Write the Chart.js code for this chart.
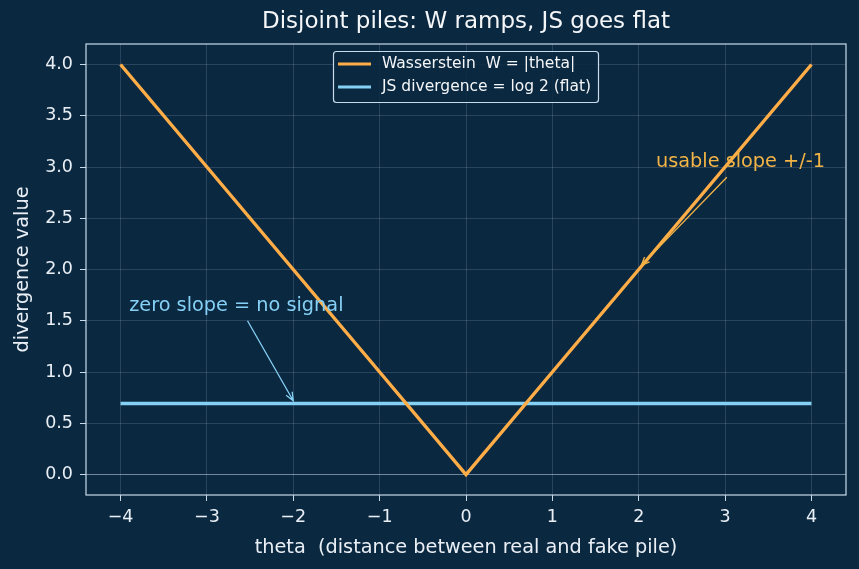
<!DOCTYPE html>
<html>
<head>
    <title>Disjoint piles</title>
    <script src="https://cdn.jsdelivr.net/npm/chart.js@4/dist/chart.umd.min.js"></script>
    <style>
        html, body {
            margin: 0;
            padding: 0;
            background-color: #0b2841;
        }
        .chart-container {
            width: 859px;
            height: 569px;
        }
    </style>
</head>
<body>
    <div class="chart-container">
        <canvas id="divChart" width="859" height="569"></canvas>
    </div>

    <script>
        // data
        const thetaVals = [-4, -3, -2, -1, 0, 1, 2, 3, 4];
        const wassersteinVals = [4, 3, 2, 1, 0, 1, 2, 3, 4];
        const jsVals = [0.693, 0.693, 0.693, 0.693, 0.693, 0.693, 0.693, 0.693, 0.693];
        const seriesLabels = ['Wasserstein  W = |theta|', 'JS divergence = log 2 (flat)'];

        const xTicks = [-4, -3, -2, -1, 0, 1, 2, 3, 4];
        const yTicks = [0, 0.5, 1, 1.5, 2, 2.5, 3, 3.5, 4];

        // annotations: text, text anchor, arrow start, arrow tip (data units)
        const noteTexts = ['usable slope +/-1', 'zero slope = no signal'];
        const noteAt = [[2.2, 3.0], [-3.9, 1.6]];
        const arrowFrom = [[3.02, 2.9], [-2.53, 1.5]];
        const arrowTo = [[2.03, 2.04], [-2.0, 0.72]];

        const bg = '#0b2841';
        const fg = '#e9eff5';
        const frame = '#c9dbea';
        const orange = '#ffad47';
        const blue = '#85d0f5';
        const font = "'DejaVu Sans', sans-serif";

        // frame, zero line, annotations, legend, title
        const decorPlugin = {
            id: 'decor',
            beforeDraw(chart) {
                const c = chart.ctx;
                c.save();
                c.fillStyle = bg;
                c.fillRect(0, 0, chart.width, chart.height);
                c.restore();
            },
            beforeDatasetsDraw(chart) {
                const c = chart.ctx;
                const a = chart.chartArea;
                const y0 = chart.scales.y.getPixelForValue(0);
                c.save();
                c.strokeStyle = 'rgba(201,219,234,0.45)';
                c.lineWidth = 1.2;
                c.beginPath();
                c.moveTo(a.left, y0);
                c.lineTo(a.right, y0);
                c.stroke();
                c.restore();
            },
            afterDraw(chart) {
                const c = chart.ctx;
                const a = chart.chartArea;
                const xs = chart.scales.x, ys = chart.scales.y;
                c.save();

                // frame
                c.strokeStyle = frame;
                c.lineWidth = 1.2;
                c.strokeRect(a.left, a.top, a.right - a.left, a.bottom - a.top);

                // title
                c.fillStyle = '#f4f6f8';
                c.font = "23px " + font;
                c.textAlign = 'center';
                c.textBaseline = 'middle';
                c.fillText('Disjoint piles: W ramps, JS goes flat', (a.left + a.right) / 2, 22);

                // annotations
                const noteColors = ['#f2b445', '#85d0f5'];
                c.font = "19.3px " + font;
                c.textAlign = 'left';
                c.textBaseline = 'alphabetic';
                for (let i = 0; i < noteTexts.length; i++) {
                    c.fillStyle = noteColors[i];
                    c.fillText(noteTexts[i], xs.getPixelForValue(noteAt[i][0]), ys.getPixelForValue(noteAt[i][1]));
                    const x1 = xs.getPixelForValue(arrowFrom[i][0]), y1 = ys.getPixelForValue(arrowFrom[i][1]);
                    const x2 = xs.getPixelForValue(arrowTo[i][0]), y2 = ys.getPixelForValue(arrowTo[i][1]);
                    c.strokeStyle = noteColors[i];
                    c.lineWidth = 1.3;
                    c.beginPath();
                    c.moveTo(x1, y1);
                    c.lineTo(x2, y2);
                    const ang = Math.atan2(y2 - y1, x2 - x1);
                    const h = 9;
                    c.moveTo(x2 - h * Math.cos(ang - 0.4), y2 - h * Math.sin(ang - 0.4));
                    c.lineTo(x2, y2);
                    c.lineTo(x2 - h * Math.cos(ang + 0.4), y2 - h * Math.sin(ang + 0.4));
                    c.stroke();
                }

                // legend box
                const lx = 333, ly = 51, lw = 265, lh = 51;
                c.fillStyle = 'rgba(11,40,65,0.85)';
                c.strokeStyle = frame;
                c.lineWidth = 1.2;
                c.beginPath();
                c.roundRect(lx + 0.5, ly + 0.5, lw, lh, 3);
                c.fill();
                c.stroke();
                const cols = [orange, blue];
                c.font = "15.5px " + font;
                c.textBaseline = 'middle';
                for (let i = 0; i < seriesLabels.length; i++) {
                    const yy = ly + 13 + i * 23;
                    c.strokeStyle = cols[i];
                    c.lineWidth = 3.2;
                    c.beginPath();
                    c.moveTo(lx + 5, yy);
                    c.lineTo(lx + 38, yy);
                    c.stroke();
                    c.fillStyle = '#f4f6f8';
                    c.fillText(seriesLabels[i], lx + 49, yy);
                }
                c.restore();
            }
        };

        const minus = v => String(v).replace('-', '\u2212');

        const ctx = document.getElementById('divChart').getContext('2d');
        new Chart(ctx, {
            type: 'line',
            data: {
                datasets: [{
                    label: seriesLabels[0],
                    data: thetaVals.map((t, i) => ({ x: t, y: wassersteinVals[i] })),
                    borderColor: orange,
                    borderWidth: 3.4,
                    pointRadius: 0,
                    tension: 0
                }, {
                    label: seriesLabels[1],
                    data: thetaVals.map((t, i) => ({ x: t, y: jsVals[i] })),
                    borderColor: blue,
                    borderWidth: 3.4,
                    pointRadius: 0,
                    tension: 0
                }]
            },
            options: {
                responsive: false,
                animation: false,
                devicePixelRatio: 1,
                layout: { padding: { top: 44, right: 13, left: 0, bottom: 0 } },
                plugins: {
                    legend: { display: false },
                    tooltip: { enabled: false }
                },
                scales: {
                    x: {
                        type: 'linear',
                        min: -4.4,
                        max: 4.4,
                        afterBuildTicks: s => { s.ticks = xTicks.map(v => ({ value: v })); },
                        afterFit: s => { s.height = 74; },
                        grid: {
                            color: 'rgba(201,219,234,0.16)',
                            tickColor: frame,
                            tickLength: 6,
                            drawTicks: true
                        },
                        border: { display: false },
                        ticks: {
                            color: fg,
                            font: { family: font, size: 17.5 },
                            padding: 6,
                            maxRotation: 0,
                            callback: v => minus(v)
                        },
                        title: {
                            display: true,
                            text: 'theta  (distance between real and fake pile)',
                            color: fg,
                            font: { family: font, size: 19.3 },
                            padding: { top: 0, bottom: 9 }
                        }
                    },
                    y: {
                        type: 'linear',
                        min: -0.2,
                        max: 4.2,
                        afterBuildTicks: s => { s.ticks = yTicks.map(v => ({ value: v })); },
                        afterFit: s => { s.width = 86; },
                        grid: {
                            color: 'rgba(201,219,234,0.16)',
                            tickColor: frame,
                            tickLength: 6,
                            drawTicks: true
                        },
                        border: { display: false },
                        ticks: {
                            color: fg,
                            font: { family: font, size: 17.5 },
                            padding: 7,
                            callback: v => v.toFixed(1)
                        },
                        title: {
                            display: true,
                            text: 'divergence value',
                            color: fg,
                            font: { family: font, size: 19.3 },
                            padding: { top: 11, bottom: 0 }
                        }
                    }
                }
            },
            plugins: [decorPlugin]
        });
    </script>
</body>
</html>
